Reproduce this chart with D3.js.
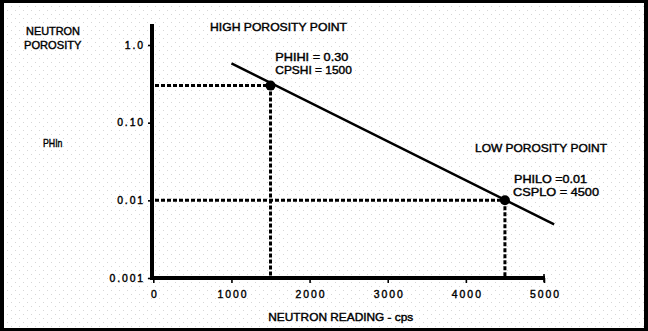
<!DOCTYPE html>
<html>
<head>
<meta charset="utf-8">
<script src="https://cdn.jsdelivr.net/npm/d3@7/dist/d3.min.js"></script>
<style>
  html, body { margin: 0; padding: 0; background: #fff; }
  svg { display: block; }
  text { font-family: "Liberation Sans", Arial, sans-serif; fill: #000; stroke: #000; stroke-width: 0.4px; }
</style>
</head>
<body>
<svg id="chart" width="648" height="331"></svg>
<script>
// Neutron porosity calibration: log(porosity) vs neutron count rate
const xTicks = [0, 1000, 2000, 3000, 4000, 5000];
const yTicks = [1, 0.1, 0.01, 0.001];
const yTickLabels = ["1.0", "0.10", "0.01", "0.001"];

// Calibration points (count rate in cps, porosity fraction)
const calPointNames = ["high", "low"];
const calCps = [1500, 4500];
const calPhi = [0.30, 0.01];

// Ends of the straight calibration line drawn through both points
const lineCps = [1000, 5130];
const linePhi = [0.58, 0.0049];

const svg = d3.select("#chart");
const W = 648, H = 331;

// Frame and paper texture
const defs = svg.append("defs");
const pat = defs.append("pattern")
  .attr("id", "paper").attr("patternUnits", "userSpaceOnUse")
  .attr("width", 8).attr("height", 8);
pat.append("rect").attr("x", 3).attr("y", 6).attr("width", 1).attr("height", 1).attr("fill", "#d6d6d6");
pat.append("rect").attr("x", 7).attr("y", 2).attr("width", 1).attr("height", 1).attr("fill", "#d6d6d6");

svg.append("rect").attr("width", W).attr("height", H).attr("fill", "#000");
svg.append("rect").attr("x", 4).attr("y", 3).attr("width", W - 8).attr("height", H - 6).attr("fill", "#fff");
svg.append("rect").attr("x", 4).attr("y", 3).attr("width", W - 8).attr("height", H - 6).attr("fill", "url(#paper)");

const x = d3.scaleLinear().domain([0, 5000]).range([153.3, 544]);
const y = d3.scaleLog().domain([0.001, 1]).range([278, 45]);

const axisX = 152, axisY = 278;

// Y axis ticks and labels
const yAxis = d3.axisLeft(y)
  .tickValues(yTicks)
  .tickFormat((d, i) => yTickLabels[i])
  .tickSize(4)
  .tickPadding(3);
const gy = svg.append("g").attr("transform", `translate(${axisX},0)`).call(yAxis);
gy.select(".domain").remove();
gy.selectAll(".tick line").attr("stroke", "#000").attr("stroke-width", 1.6);
gy.selectAll(".tick text")
  .attr("font-size", 10.4)
  .style("letter-spacing", "1.9px")
  .style("font-family", "'Liberation Sans', Arial, sans-serif");

// X axis ticks and labels
const xAxis = d3.axisBottom(x)
  .tickValues(xTicks)
  .tickFormat(d3.format("d"))
  .tickSize(5)
  .tickPadding(7.5);
const gx = svg.append("g").attr("transform", `translate(0,${axisY})`).call(xAxis);
gx.select(".domain").remove();
gx.selectAll(".tick line").attr("stroke", "#000").attr("stroke-width", 1.6);
gx.selectAll(".tick text")
  .attr("font-size", 10.4)
  .attr("dx", 1)
  .style("letter-spacing", "2px")
  .style("font-family", "'Liberation Sans', Arial, sans-serif");

// Heavy axis lines
svg.append("line")
  .attr("x1", axisX).attr("x2", axisX).attr("y1", 24).attr("y2", axisY + 2)
  .attr("stroke", "#000").attr("stroke-width", 4);
svg.append("line")
  .attr("x1", axisX - 2).attr("x2", x(5000) + 1).attr("y1", axisY).attr("y2", axisY)
  .attr("stroke", "#000").attr("stroke-width", 4);
svg.append("line")
  .attr("x1", x(5000)).attr("x2", x(5000)).attr("y1", axisY - 4).attr("y2", axisY + 4)
  .attr("stroke", "#000").attr("stroke-width", 1.6);

// Dotted guides from each calibration point to both axes
const guides = svg.append("g")
  .attr("stroke", "#000").attr("stroke-width", 3)
  .attr("stroke-dasharray", "4 2").attr("fill", "none");
calCps.forEach((c, i) => {
  guides.append("line")
    .attr("x1", axisX + 3).attr("x2", x(c))
    .attr("y1", y(calPhi[i])).attr("y2", y(calPhi[i]));
  guides.append("line")
    .attr("x1", x(c)).attr("x2", x(c))
    .attr("y1", y(calPhi[i])).attr("y2", axisY - 2);
});

// Calibration line
svg.append("path")
  .datum(lineCps.map((c, i) => [c, linePhi[i]]))
  .attr("fill", "none").attr("stroke", "#000").attr("stroke-width", 2.4)
  .attr("d", d3.line().x(d => x(d[0])).y(d => y(d[1])));

// Calibration points
svg.append("g").selectAll("circle")
  .data(calPointNames)
  .join("circle")
  .attr("cx", (d, i) => x(calCps[i]))
  .attr("cy", (d, i) => y(calPhi[i]))
  .attr("r", 5)
  .attr("fill", "#000");

// Labels
const labels = [
  { t: "NEUTRON", x: 26, y: 34.5, w: 54 },
  { t: "POROSITY", x: 24, y: 48.8, w: 57.5 },
  { t: "PHIn", x: 43, y: 147.3, w: 19.5 },
  { t: "HIGH POROSITY POINT", x: 210, y: 31, w: 137 },
  { t: "PHIHI = 0.30", x: 275.3, y: 60.5, w: 73 },
  { t: "CPSHI = 1500", x: 275.3, y: 74, w: 76.5 },
  { t: "LOW POROSITY POINT", x: 475, y: 152, w: 132 },
  { t: "PHILO =0.01", x: 514, y: 182.5, w: 73 },
  { t: "CSPLO = 4500", x: 513, y: 196, w: 86 },
  { t: "NEUTRON READING - cps", x: 268.3, y: 320.5, w: 145 }
];
svg.append("g").selectAll("text")
  .data(labels)
  .join("text")
  .attr("x", d => d.x)
  .attr("y", d => d.y)
  .attr("font-size", 10.8)
  .attr("textLength", d => d.w)
  .attr("lengthAdjust", "spacingAndGlyphs")
  .text(d => d.t);
</script>
</body>
</html>
